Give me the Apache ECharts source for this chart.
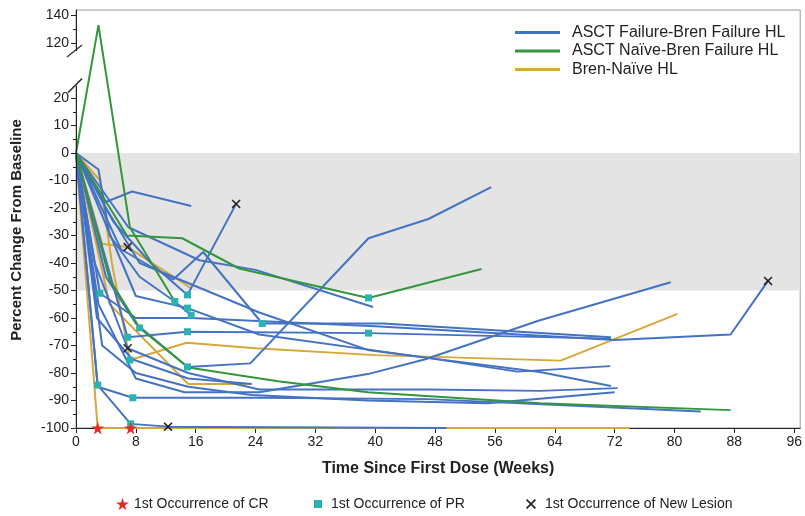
<!DOCTYPE html>
<html><head><meta charset="utf-8">
<script src="https://cdn.jsdelivr.net/npm/echarts@6/dist/echarts.min.js"></script>
<style>html,body{margin:0;padding:0;background:#fff}#c{width:805px;height:516px}</style>
</head><body><div id="c"></div>
<script>
const groupNames = ['ASCT Failure-Bren Failure HL', 'ASCT Naïve-Bren Failure HL', 'Bren-Naïve HL'];
const groupColors = ['#4472c4', '#33963d', '#d6a73a'];

// [week, percent change]
const asctFailureLines = [
  [[0,0],[3.8,-18],[7.5,-14],[15.4,-19.3]],
  [[0,0],[5,-25],[10,-40],[14.9,-51.6],[21.4,-18.5]],
  [[0,0],[4,-45],[8,-62],[14.9,-77.8],[23.3,-76.5],[39.1,-31],[47.1,-24],[55.5,-12.4]],
  [[0,0],[3,-55],[8,-82],[14.5,-87],[24.5,-87],[39,-80.4],[46.7,-75],[61.8,-61],[79.5,-47]],
  [[0,0],[3.2,-51],[8,-60],[15.4,-60],[40,-63],[72,-68],[87.5,-66],[92.5,-46.5]],
  [[0,0],[7,-27],[16.5,-39],[24,-42.5],[39.7,-56]],
  [[0,0],[6,-35],[13,-46],[17,-36],[24.9,-62],[41,-62],[71.5,-67]],
  [[0,0],[6.9,-67],[14.9,-65],[39.1,-65.5],[71.5,-67.5]],
  [[0,0],[4,-20],[8.5,-40],[24.5,-58],[39,-71.6],[47,-74.5],[62,-79.6],[71.5,-84.7]],
  [[0,0],[8,-52],[14.9,-56.4],[24.5,-66],[47,-74.5],[59,-79.5],[71.4,-77.5]],
  [[0,0],[2.5,-40],[6.9,-71],[15,-80],[24.5,-86],[47,-86],[62,-86.5],[72.4,-85.5]],
  [[0,0],[2.9,-85],[7.6,-89],[24.5,-89],[47,-89.5],[83.5,-94]],
  [[0,0],[2.9,-84.4],[7.3,-98.5],[12.3,-99.5],[49.5,-100]],
  [[0,0],[3,-6],[4.5,-30],[8.5,-45],[13.2,-54],[15.4,-59]],
  [[0,0],[3.5,-70],[8,-80],[15,-85],[23.5,-88],[39,-90],[55,-91],[72,-87]],
  [[0,0],[2.8,-60],[7.5,-75],[15,-82],[23.5,-84]]
];
const asctNaiveLines = [
  [[0,0],[3,133],[7.2,-27],[13.2,-54]],
  [[0,0],[6.8,-30],[14.2,-31],[21.8,-42],[39.1,-52.7],[54.2,-42.2]],
  [[0,0],[4.5,-46],[8.5,-63.6],[15,-78],[27,-83],[39,-87],[62,-91],[87.5,-93.5]]
];
const brenNaiveLines = [
  [[0,0],[2.9,-100],[7.3,-100],[74,-100]],
  [[0,0],[3.2,-10],[4.8,-40],[7.2,-75.3],[14.8,-69],[24,-71],[40,-73.5],[64.8,-75.5],[80.4,-58.5]],
  [[0,0],[3.5,-33],[6.9,-34.2],[15.3,-49]],
  [[0,0],[4.5,-55],[15,-84],[23.5,-84]]
];

const crPoints = [[2.9,-100],[7.3,-100]];
const prPoints = [[2.9,-84.4],[3.2,-51],[7.6,-89],[7.3,-98.5],[7.2,-75.3],[6.9,-67],[8.5,-63.6],
  [13.2,-54],[14.9,-51.6],[14.9,-56.4],[15.4,-59],[14.9,-65],[14.9,-77.8],[24.9,-62],[39.1,-52.7],[39.1,-65.5]];
const lesionPoints = [[6.9,-34.2],[21.4,-18.5],[6.9,-71],[12.3,-99.5],[92.5,-46.5]];

const markerNames = ['1st Occurrence of CR', '1st Occurrence of PR', '1st Occurrence of New Lesion'];

const xTickLabels = [0,8,16,24,32,40,48,56,64,72,80,88,96];
const xMinorTicks = [4,12,20,28,36,44,52,60,68,76,84,92];
const yTickLabels = [-100,-90,-80,-70,-60,-50,-40,-30,-20,-10,0,10,20,120,140];
const yMinorTicks = [-95,-85,-75,-65,-55,-45,-35,-25,-15,-5,5,15,130];
const bandRange = [0, -50];

// broken axis: values above 120 are drawn at half scale above the break
function disp(v) {
  if (v <= 20) return v;
  if (v >= 120) return 40 + (v - 120) / 2;
  return 20 + (v - 20) / 5;
}
const dispToReal = {};
yTickLabels.forEach(v => { dispToReal[disp(v)] = v; });

const STAR = 'path://M50,0 L61,35 L98,35 L68,57 L79,91 L50,70 L21,91 L32,57 L2,35 L39,35 Z';
const CROSS = 'path://M0,12 L12,0 L50,38 L88,0 L100,12 L62,50 L100,88 L88,100 L50,62 L12,100 L0,88 L38,50 Z';

const series = [];
series.push({
  type: 'line', name: 'band', data: [], silent: true, z: 1,
  markArea: { silent: true, itemStyle: { color: '#e4e4e4' },
    data: [[{ yAxis: disp(bandRange[0]) }, { yAxis: disp(bandRange[1]) }]] }
});
function addLines(lines, gi) {
  lines.forEach(l => series.push({
    type: 'line', name: groupNames[gi], data: l.map(p => [p[0], disp(p[1])]),
    symbol: 'none', showSymbol: false, silent: true, z: 3,
    itemStyle: { color: groupColors[gi] },
    lineStyle: { color: groupColors[gi], width: 2 }
  }));
}
addLines(brenNaiveLines, 2);
addLines(asctFailureLines, 0);
addLines(asctNaiveLines, 1);
function addMarkers(points, name, symbol, size, color) {
  series.push({
    type: 'scatter', name: name, data: points.map(p => [p[0], disp(p[1])]),
    symbol: symbol, symbolSize: size, silent: true, z: 10,
    itemStyle: { color: color, opacity: 1 }
  });
}
addMarkers(prPoints, markerNames[1], 'rect', 7, '#2bb3b3');
addMarkers(lesionPoints, markerNames[2], CROSS, 9, '#222222');
addMarkers(crPoints, markerNames[0], STAR, 13, '#ec2a24');

const font = "'Liberation Sans', Arial, sans-serif";
const chart = echarts.init(document.getElementById('c'), null, { renderer: 'canvas' });
chart.setOption({
  animation: false,
  textStyle: { fontFamily: font },
  grid: { left: 76, top: 10, right: 2, bottom: 88, show: true, borderColor: '#999', borderWidth: 1, backgroundColor: 'transparent' },
  xAxis: [{
    type: 'value', min: 0, max: 96.8, position: 'bottom',
    axisLine: { show: true, onZero: false, lineStyle: { color: '#222', width: 1 } },
    axisTick: { show: true, customValues: xTickLabels, length: 5, lineStyle: { color: '#222' } },
    axisLabel: { customValues: xTickLabels, fontSize: 14, color: '#222', margin: 7 },
    splitLine: { show: false },
    name: 'Time Since First Dose (Weeks)', nameLocation: 'middle', nameGap: 33,
    nameTextStyle: { fontSize: 16, fontWeight: 'bold', color: '#222', fontFamily: font }
  }, {
    type: 'value', min: 0, max: 96.8, position: 'bottom', gridIndex: 0,
    axisLine: { show: false },
    axisTick: { show: true, customValues: xMinorTicks, length: 3, lineStyle: { color: '#222' } },
    axisLabel: { show: false }, splitLine: { show: false }
  }],
  yAxis: [{
    type: 'value', min: -100, max: 52, position: 'left', z: 5,
    axisLine: { show: true, onZero: false, lineStyle: { color: '#222', width: 1 } },
    axisTick: { show: true, customValues: yTickLabels.map(disp), length: 5, lineStyle: { color: '#222' } },
    axisLabel: { customValues: yTickLabels.map(disp), fontSize: 14, color: '#222', margin: 7,
      formatter: v => String(dispToReal[v] !== undefined ? dispToReal[v] : '') },
    splitLine: { show: false }
  }, {
    type: 'value', min: -100, max: 52, position: 'left', gridIndex: 0, z: 5,
    axisLine: { show: false },
    axisTick: { show: true, customValues: yMinorTicks.map(disp), length: 3, lineStyle: { color: '#222' } },
    axisLabel: { show: false }, splitLine: { show: false }
  }],
  legend: [{
    orient: 'vertical', left: 515, top: 24, padding: 0, itemGap: 1.5,
    itemWidth: 45, itemHeight: 3, selectedMode: false,
    data: groupNames.map(n => ({ name: n, icon: 'rect' })),
    textStyle: { fontSize: 16, color: '#222', padding: [0, 0, 0, 7], lineHeight: 17, fontFamily: font }
  }, {
    left: 116, top: 497, padding: 0, itemWidth: 13, itemHeight: 13, selectedMode: false,
    data: [{ name: markerNames[0], icon: STAR }],
    textStyle: { fontSize: 14, color: '#222', fontFamily: font }
  }, {
    left: 314, top: 497, padding: 0, itemWidth: 8, itemHeight: 8, selectedMode: false,
    data: [{ name: markerNames[1], icon: 'rect' }],
    textStyle: { fontSize: 14, color: '#222', padding: [0, 0, 0, 4], fontFamily: font }
  }, {
    left: 526, top: 497, padding: 0, itemWidth: 10, itemHeight: 10, selectedMode: false,
    data: [{ name: markerNames[2], icon: CROSS }],
    textStyle: { fontSize: 14, color: '#222', padding: [0, 0, 0, 4], fontFamily: font }
  }],
  series: series
});

// axis break decoration and rotated y title
const x0 = chart.convertToPixel({ gridIndex: 0 }, [0, 0])[0];
const yUp = chart.convertToPixel({ gridIndex: 0 }, [0, 37.1])[1];
const yLo = chart.convertToPixel({ gridIndex: 0 }, [0, 24.5])[1];
chart.setOption({
  graphic: [
    { type: 'rect', z: 100, shape: { x: x0 - 2, y: yUp, width: 4, height: yLo - yUp }, style: { fill: '#fff' } },
    { type: 'line', z: 101, shape: { x1: x0 - 9, y1: yUp + 6, x2: x0 + 6, y2: yUp - 6 }, style: { stroke: '#333', lineWidth: 1.5 } },
    { type: 'line', z: 101, shape: { x1: x0 - 8, y1: yLo + 7, x2: x0 + 6, y2: yLo - 7 }, style: { stroke: '#333', lineWidth: 1.5 } },
    { type: 'text', z: 100, x: 17, y: 230, rotation: Math.PI / 2,
      style: { text: 'Percent Change From Baseline', font: 'bold 15px ' + font, fill: '#222',
        align: 'center', verticalAlign: 'middle', textAlign: 'center', textVerticalAlign: 'middle' } }
  ]
});
</script></body></html>
